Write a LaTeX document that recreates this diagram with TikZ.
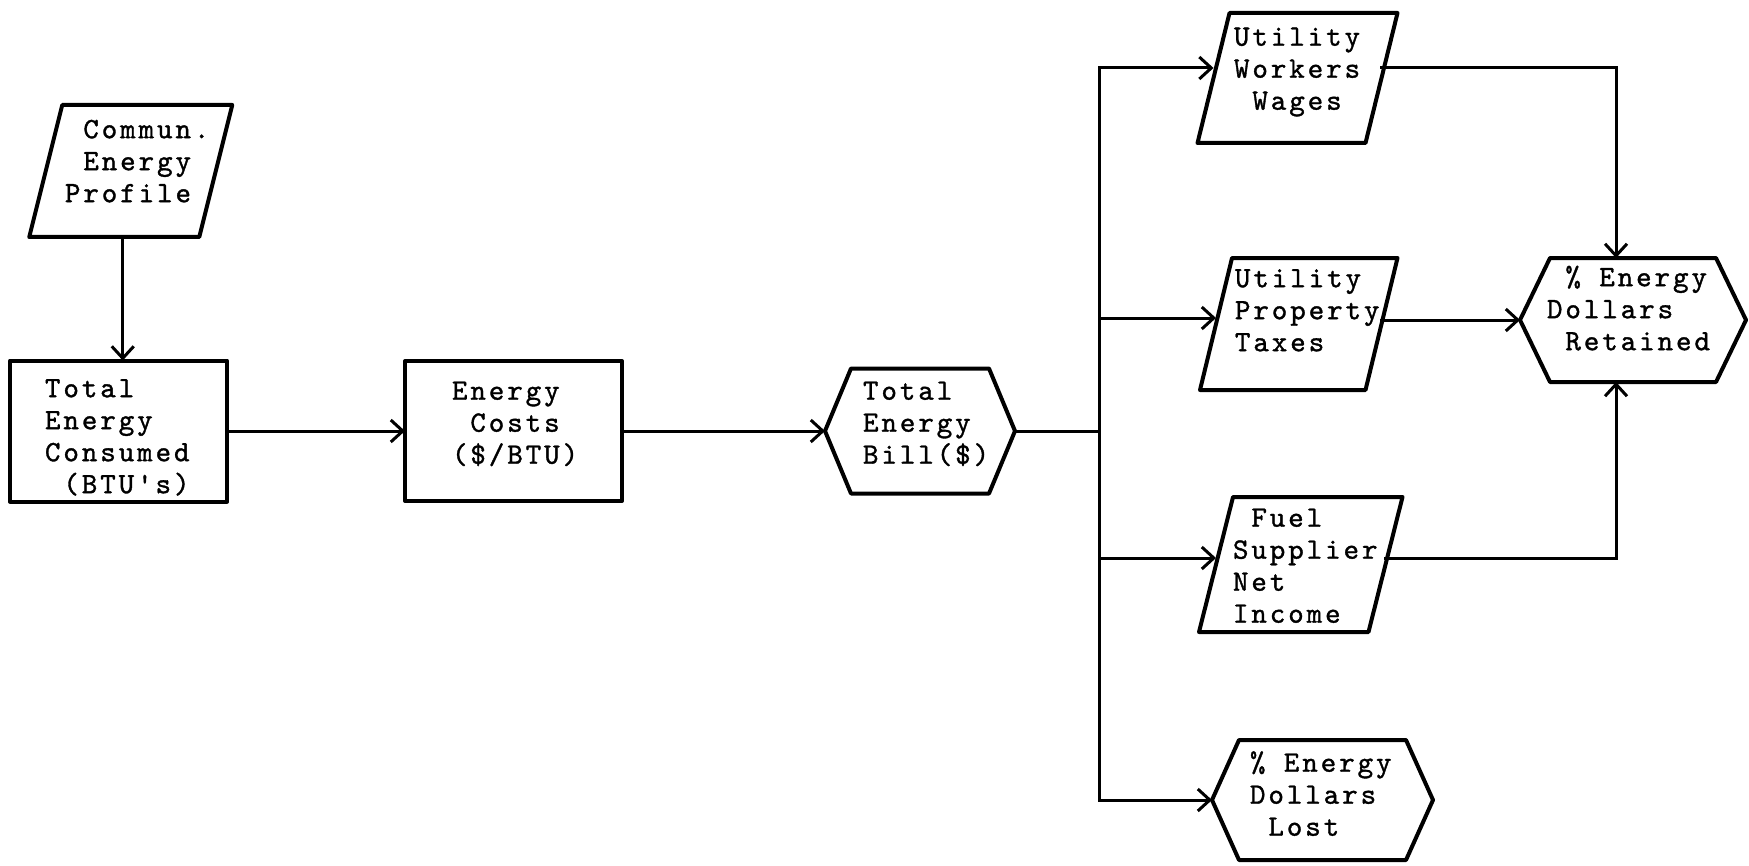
\documentclass[tikz,border=0pt]{standalone}
\usepackage{fontspec}
\newfontfamily\tw{lmmono10-regular.otf}[LetterSpace=10,FakeBold=1.2]
\usetikzlibrary{arrows.meta}
\newcommand\bl{\hspace*{9.2pt}}
\newcommand\tb[3]{\smash{\makebox[0pt][l]{\hspace*{#1}\raisebox{#2}{\begin{tabular}{@{}l@{}}#3\end{tabular}}}}}
\newcommand\paraline[2]{\draw[outline] ([xshift=#2]#1.north west) -- ([xshift=#2]#1.north east) -- ([xshift=-#2]#1.south east) -- ([xshift=-#2]#1.south west) -- cycle;}
\newcommand\hexline[2]{\draw[outline] ([xshift=#2]#1.north west) -- ([xshift=-#2]#1.north east) -- (#1.east) -- ([xshift=-#2]#1.south east) -- ([xshift=#2]#1.south west) -- (#1.west) -- cycle;}
\tikzset{
  outline/.style={line width=2pt, line join=round},
  conn/.style={line width=1.5pt, line cap=rect},
  arr/.style={conn, -{Straight Barb[length=6pt,width=11pt]}},
  box/.style={rectangle, inner sep=0pt, outer sep=0pt, font={\tw\fontsize{14.75pt}{16pt}\selectfont}},
  drawnbox/.style={box, draw, outline},
}
\begin{document}
\begin{tikzpicture}[x=0.5pt,y=-0.5pt]
\useasboundingbox (0,0) rectangle (1749,866);
% nodes
\node[box, minimum width=85pt, minimum height=66pt] (comm) at (130.75,171)
  {\tb{-32.9pt}{0pt}{\bl Commun.\\\bl Energy\\Profile}};
\node[drawnbox, minimum width=108.5pt, minimum height=70.5pt] (tec) at (118.5,431)
  {\tb{-36.75pt}{-7.5pt}{Total\\Energy\\Consumed\\\bl(BTU's)}};
\node[drawnbox, minimum width=108.5pt, minimum height=70pt] (ec) at (513.5,431)
  {\tb{-30.75pt}{-0.75pt}{Energy\\\bl Costs\\(\$/BTU)}};
\node[box, minimum width=95pt, minimum height=62.5pt] (teb) at (920,431)
  {\tb{-28.5pt}{-0.75pt}{Total\\Energy\\Bill(\$)}};
\node[box, minimum width=84pt, minimum height=65pt] (uww) at (1297.5,78)
  {\tb{-31.75pt}{-0.25pt}{Utility\\Workers\\\bl Wages}};
\node[box, minimum width=82.75pt, minimum height=66pt] (upt) at (1298.75,324)
  {\tb{-31.9pt}{2pt}{Utility\\Property\\Taxes}};
\node[box, minimum width=84.75pt, minimum height=67.5pt] (fuel) at (1300.75,564.5)
  {\tb{-33.9pt}{-5.5pt}{\bl Fuel\\Supplier\\Net\\Income}};
\node[box, minimum width=113pt, minimum height=62pt] (ret) at (1633,320)
  {\tb{-43pt}{0.5pt}{\bl\%\bl Energy\\Dollars\\\bl Retained}};
\node[box, minimum width=110.5pt, minimum height=60pt] (lost) at (1322.5,800)
  {\tb{-36.25pt}{-2.25pt}{\%\bl Energy\\Dollars\\\bl Lost}};
% outlines
\paraline{comm}{8.25pt}
\paraline{uww}{8pt}
\paraline{upt}{8pt}
\paraline{fuel}{8.5pt}
\hexline{teb}{13pt}
\hexline{ret}{15pt}
\hexline{lost}{13.5pt}
% bus coordinates
\coordinate (b1) at (1099,68);
\coordinate (b2) at (1099,318);
\coordinate (b3) at (1099,558);
\coordinate (b4) at (1099,800);
% connectors
\draw[arr] ([xshift=-4pt]comm.south) -- ([xshift=-4pt]comm.south |- tec.north);
\draw[arr] (tec.east) -- (ec.west);
\draw[arr] (ec.east) -- (teb.west);
\draw[conn] (teb.east) -- (teb.east -| b1);
\draw[conn] (b1) -- (b4);
\draw[arr] (b1) -- (b1 -| uww.west);
\draw[arr] (b2) -- (b2 -| upt.west);
\draw[arr] (b3) -- (b3 -| fuel.west);
\draw[arr] (b4) -- (lost.west);
\draw[arr] (b1 -| uww.east) -| ([xshift=-8.5pt]ret.north);
\draw[arr] (ret.west -| upt.east) -- (ret.west);
\draw[arr] (b3 -| fuel.east) -| ([xshift=-8.5pt]ret.south);
\end{tikzpicture}
\end{document}
